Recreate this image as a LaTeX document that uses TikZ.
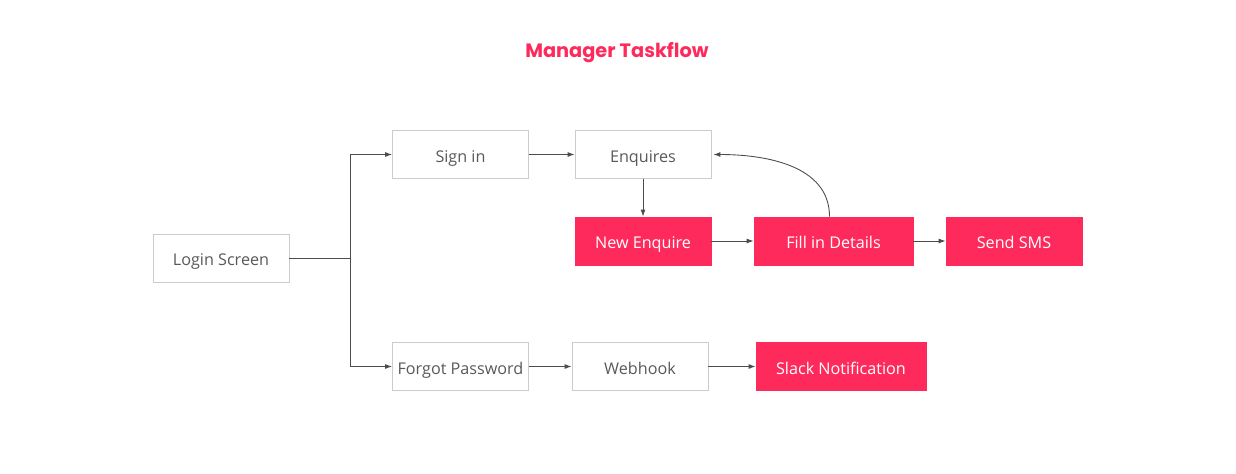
\documentclass[tikz,border=0pt]{standalone}
\usepackage{fontspec}
\setmainfont{Open Sans}
\newfontfamily\titlefont{Poppins}
\usetikzlibrary{positioning,arrows.meta,calc}
\definecolor{hotpink}{HTML}{FF2A5C}
\colorlet{accent}{hotpink}
\colorlet{edge}{black!20}
\colorlet{muted}{black!65}

\begin{document}
\begin{tikzpicture}[
    x=0.02cm, y=-0.02cm,
    box/.style={draw=edge, line width=0.5pt, fill=white, text=muted,
                minimum width=2.72cm, minimum height=0.96cm,
                text height=0.88em, text depth=0em,
                font=\fontsize{9.2}{11}\selectfont, inner sep=2pt},
    hot/.style={box, draw=accent, fill=accent, text=white},
    arr/.style={-{Latex[length=1.4mm,width=1mm]}, draw=black!70, line width=0.5pt},
  ]
  \useasboundingbox (0,0) rectangle (1236,473);
  \node[text=accent, font=\titlefont\bfseries\fontsize{11}{13}\selectfont] (title) at (617,53) {Manager Taskflow};

  \node[box] (login) at (221,258) {Login Screen};
  \node[box] (signin) at (460.5,154.5) {Sign in};
  \node[box] (enq) at (643,154.5) {Enquires};
  \node[hot] (new) at (643,241) {New Enquire};
  \node[hot, minimum width=3.18cm] (fill) at (833.5,241) {Fill in Details};
  \node[hot] (sms) at (1014,241) {Send SMS};
  \node[box] (forgot) at (460.5,366.5) {Forgot Password};
  \node[box] (hook) at (640,366.5) {Webhook};
  \node[hot, minimum width=3.4cm] (slack) at (841,366.5) {Slack Notification};

  \coordinate (fork) at ($(login.east)+(61,0)$);
  \draw[draw=black!70, line width=0.5pt] (login.east) -- (fork);
  \draw[arr] (fork) |- (signin.west);
  \draw[arr] (fork) |- (forgot.west);
  \draw[arr] (signin) -- (enq);
  \draw[arr] (enq) -- (new);
  \draw[arr] (new) -- (fill);
  \draw[arr] (fill) -- (sms);
  \draw[arr] ($(fill.north)+(-4,0)$) to[out=90, in=0] ($(enq.east)+(2,0)$);
  \draw[arr] (forgot) -- (hook);
  \draw[arr] (hook) -- (slack);
\end{tikzpicture}
\end{document}
